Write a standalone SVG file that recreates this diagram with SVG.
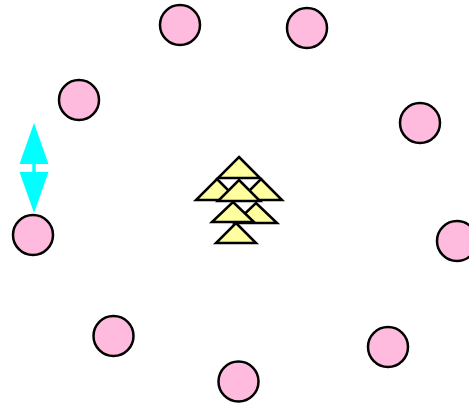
<svg xmlns="http://www.w3.org/2000/svg" width="469" height="406" viewBox="0 0 469 406">
<style>
.n{fill:#ffbbdd;stroke:#000;stroke-width:2.5}
.t{fill:#ffffa0;stroke:#000;stroke-width:2.5;stroke-linejoin:miter}
.a{fill:#00ffff;stroke:none}
</style>
<rect width="469" height="406" fill="#fff"/>
<g id="connectors">
<polygon class="a" points="34,123 48.5,164 19.5,164"/>
<rect class="a" x="32.3" y="163" width="3.4" height="10"/>
<polygon class="a" points="34,213 48.5,172 19.5,172"/>
</g>
<g id="n1"><circle class="n" cx="180" cy="25" r="20"/></g>
<g id="n2"><circle class="n" cx="307" cy="28" r="20"/></g>
<g id="n3"><circle class="n" cx="79" cy="100" r="20"/></g>
<g id="n4"><circle class="n" cx="420" cy="123" r="20"/></g>
<g id="n5"><circle class="n" cx="33" cy="235" r="20"/></g>
<g id="n6"><circle class="n" cx="457" cy="241" r="20"/></g>
<g id="n7"><circle class="n" cx="113.5" cy="336" r="20"/></g>
<g id="n8"><circle class="n" cx="388" cy="347" r="20"/></g>
<g id="n9"><circle class="n" cx="238.5" cy="381.5" r="20"/></g>
<g id="triangles">
<polygon class="t" points="239,157 260,178 218,178"/>
<polygon class="t" points="217,179 238,200 196,200"/>
<polygon class="t" points="261,179 282,200 240,200"/>
<polygon class="t" points="239,180 260,201 218,201"/>
<polygon class="t" points="256,203 277,223 235,223"/>
<polygon class="t" points="233,202 254,222 212,222"/>
<polygon class="t" points="236,223 256,243 216,243"/>
</g>
</svg>
